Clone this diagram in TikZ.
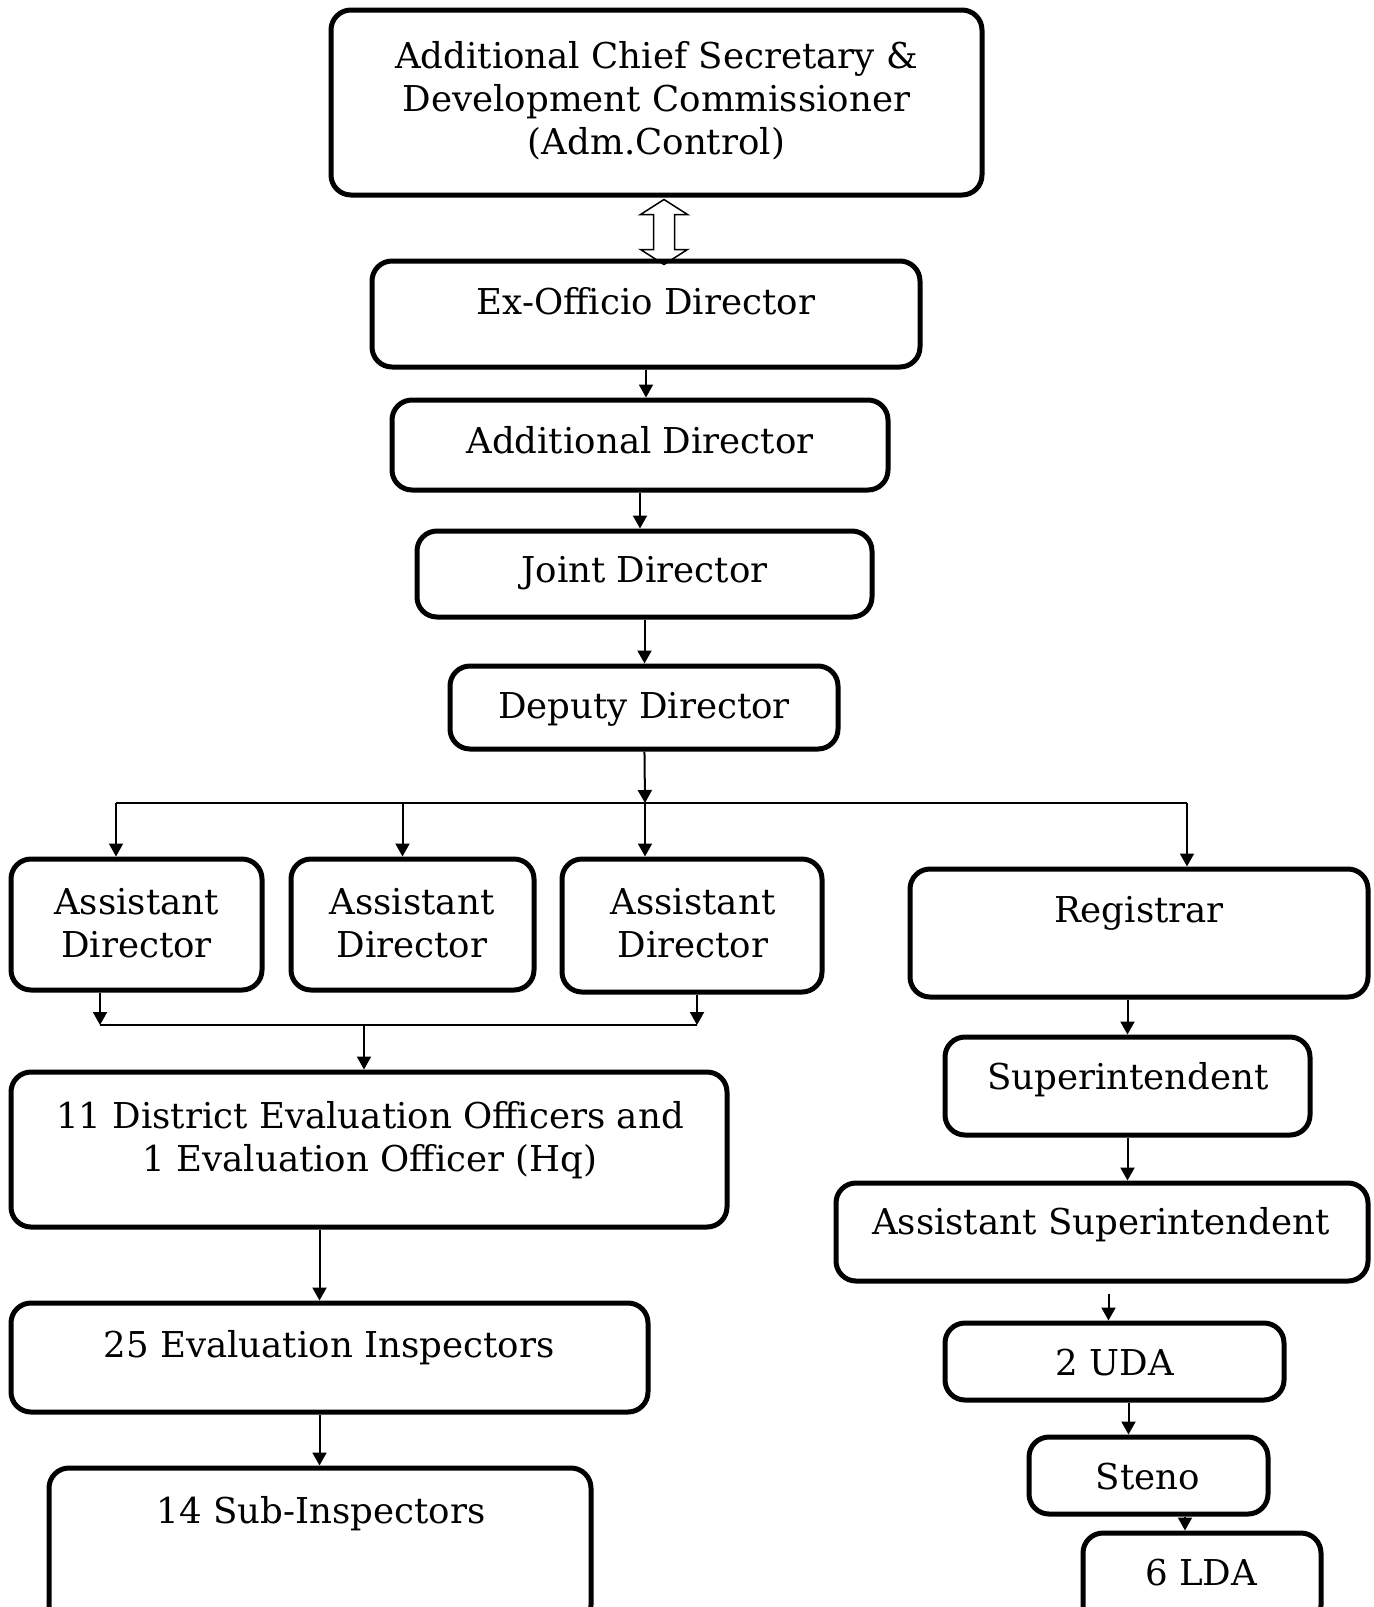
\documentclass[tikz,border=0pt]{standalone}
\usepackage{fontspec}
\setmainfont{DejaVu Serif}
\usetikzlibrary{arrows.meta}
\tikzset{
  box/.style={draw, line width=2.5pt, rounded corners=10pt, inner sep=0pt},
  txt/.style={align=center, inner sep=0pt, font=\fontsize{17.8}{21.5}\selectfont},
  arr/.style={line width=1pt, -{Triangle[length=6.5pt,width=7pt]}},
  link/.style={line width=1pt}
}
\begin{document}
\begin{tikzpicture}[x=0.5pt, y=-0.5pt]
  \useasboundingbox (0,0) rectangle (1373,1607);
  % centre column
  \node[box, minimum width=325.5pt, minimum height=92.5pt] (acs) at (656.5,102.5) {};
  \node[txt] (acst) at (656.5,101) {Additional Chief Secretary \&\\Development Commissioner\\(Adm.Control)};
  \node[box, minimum width=274pt, minimum height=53pt] (exo) at (646,314) {};
  \node[txt] (exot) at (646,301) {Ex-Officio Director};
  \node[box, minimum width=248pt, minimum height=45pt] (add) at (640,445) {};
  \node[txt] (addt) at (640,440) {Additional Director};
  \node[box, minimum width=227.5pt, minimum height=43pt] (jd) at (644.5,574) {};
  \node[txt] (jdt) at (644.5,573) {Joint Director};
  \node[box, minimum width=194pt, minimum height=41.5pt] (dd) at (644,707.5) {};
  \node[txt] (ddt) at (644,709) {Deputy Director};
  % assistant directors
  \node[box, minimum width=125.5pt, minimum height=65.5pt] (ad1) at (136.5,924.5) {};
  \node[txt] (ad1t) at (136.5,923.5) {Assistant\\Director};
  \node[box, minimum width=121.5pt, minimum height=65.5pt] (ad2) at (412.5,924.5) {};
  \node[txt] (ad2t) at (412,923.5) {Assistant\\Director};
  \node[box, minimum width=130pt, minimum height=66.5pt] (ad3) at (692,925.5) {};
  \node[txt] (ad3t) at (693,923.5) {Assistant\\Director};
  % field side
  \node[box, minimum width=358pt, minimum height=77.5pt] (deo) at (369,1149.5) {};
  \node[txt] (deot) at (370,1140) {11 District Evaluation Officers and\\1 Evaluation Officer (Hq)};
  \node[box, minimum width=318.5pt, minimum height=54.5pt] (ei) at (329.5,1357.5) {};
  \node[txt] (eit) at (329,1348) {25 Evaluation Inspectors};
  \node[box, minimum width=271pt, minimum height=78.5pt] (si) at (320,1546.5) {};
  \node[txt] (sit) at (321,1514) {14 Sub-Inspectors};
  % office side
  \node[box, minimum width=229pt, minimum height=64pt] (reg) at (1139,933) {};
  \node[txt] (regt) at (1139,913) {Registrar};
  \node[box, minimum width=182.5pt, minimum height=49pt] (sup) at (1127.5,1086) {};
  \node[txt] (supt) at (1128,1080) {Superintendent};
  \node[box, minimum width=266pt, minimum height=49pt] (asup) at (1102,1232) {};
  \node[txt] (asupt) at (1101,1225) {Assistant Superintendent};
  \node[box, minimum width=169.5pt, minimum height=38.5pt] (uda) at (1114.5,1361.5) {};
  \node[txt] (udat) at (1115,1363) {2 UDA};
  \node[box, minimum width=119.5pt, minimum height=38.5pt] (steno) at (1148.5,1475.5) {};
  \node[txt] (stenot) at (1148,1477) {Steno};
  \node[box, minimum width=119pt, minimum height=46pt] (lda) at (1202,1579) {};
  \node[txt] (ldat) at (1201,1573) {6 LDA};
  % hollow two-way arrow
  \coordinate (ctrl) at (664,0);
  \draw[line width=0.75pt, line join=miter] ([yshift=-1pt]acs.south -| ctrl) -- ++(23.5,15) -- ++(-13,0) -- ++(0,35)
    -- ++(13,0) -- ++(-23.5,15) -- ++(-23.5,-15) -- ++(13,0) -- ++(0,-35) -- ++(-13,0) -- cycle;
  % connectors
  \draw[arr] (exo) -- (exo |- add.north);
  \draw[arr] (add) -- (add |- jd.north);
  \draw[arr] (jd) -- (jd |- dd.north);
  \coordinate (bus) at (645,803);
  \coordinate (busl) at (116,803);
  \coordinate (busr) at (1187,803);
  \draw[arr] (dd) -- (bus);
  \draw[link] (busl) -- (busr);
  \draw[arr] (busl) -- (busl |- ad1.north);
  \draw[arr] ([xshift=-5pt]ad2.north |- bus) -- ([xshift=-5pt]ad2.north);
  \draw[arr] (bus) -- (bus |- ad3.north);
  \draw[arr] (busr) -- (busr |- reg.north);
  \coordinate (jl) at (100,1025);
  \coordinate (jr) at (697,1025);
  \coordinate (jm) at (364,1025);
  \draw[arr] (jl |- ad1.south) -- (jl);
  \draw[arr] (jr |- ad3.south) -- (jr);
  \draw[link] (jl) -- (jr);
  \draw[arr] (jm) -- (jm |- deo.north);
  \draw[arr] ([xshift=-5pt]ei.north |- deo.south) -- ([xshift=-5pt]ei.north);
  \draw[arr] ([xshift=-5pt]ei.south) -- ([xshift=-5pt]ei.south |- si.north);
  \draw[arr] (reg.south -| sup.north) -- (sup.north);
  \draw[arr] (sup) -- (sup |- asup.north);
  \draw[arr, shorten <=5pt] ([xshift=-3pt]uda.north |- asup.south) -- ([xshift=-3pt]uda.north);
  \draw[arr] ([xshift=7pt]uda.south) -- ([xshift=7pt]uda.south |- steno.north);
  \draw[arr] ([xshift=-8.5pt]lda.north |- steno.south) -- ([xshift=-8.5pt]lda.north);
\end{tikzpicture}
\end{document}
